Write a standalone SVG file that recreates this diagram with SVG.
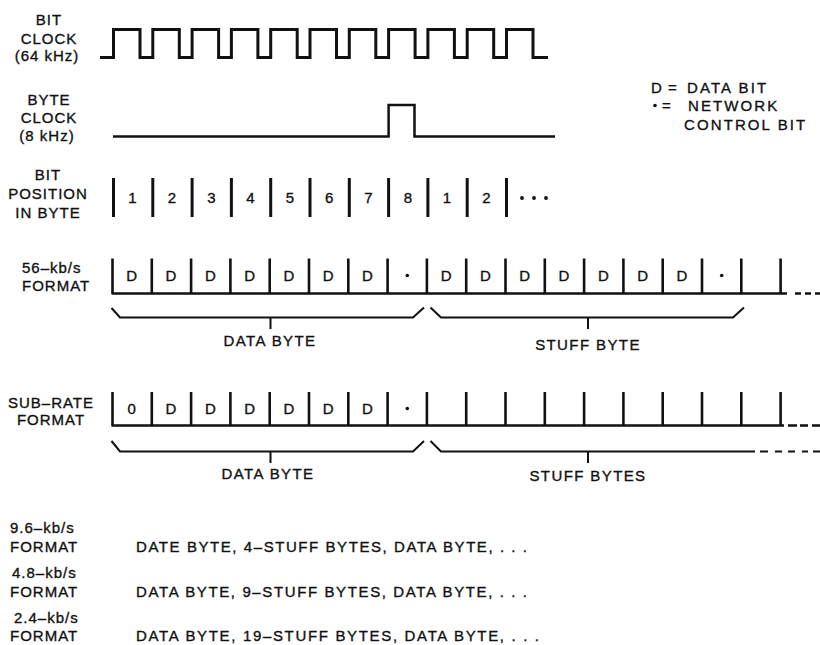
<svg xmlns="http://www.w3.org/2000/svg" width="820" height="645" viewBox="0 0 820 645">
<style>
text{font-family:"Liberation Sans",Arial,sans-serif;font-size:15px;fill:#111;stroke:#111;stroke-width:0.35;letter-spacing:1px}
.m{text-anchor:middle}
.w{fill:none;stroke:#111;stroke-width:3;stroke-linejoin:miter}
.bar{stroke:#111;stroke-width:3}
.base{stroke:#111;stroke-width:2.5;fill:none}
.br{fill:none;stroke:#111;stroke-width:2}
.lg{letter-spacing:2.1px}
.bl{letter-spacing:1.4px}
</style>
<rect width="820" height="645" fill="#fff"/>

<g id="bit-clock">
<text class="m" x="49" y="25">BIT</text>
<text class="m" x="49" y="44">CLOCK</text>
<text class="m" x="47" y="61">(64 kHz)</text>
<path class="w" d="M100,57.5 H113.5 V29.5 H140 V57.5 H152.8 V29.5 H179.3 V57.5 H192.1 V29.5 H218.6 V57.5 H231.4 V29.5 H257.9 V57.5 H270.7 V29.5 H297.2 V57.5 H310 V29.5 H336.5 V57.5 H349.3 V29.5 H375.8 V57.5 H388.6 V29.5 H415.1 V57.5 H427.9 V29.5 H454.4 V57.5 H467.2 V29.5 H493.7 V57.5 H506.5 V29.5 H533 V57.5 H548"/>
</g>

<g id="byte-clock">
<text class="m" x="49" y="105">BYTE</text>
<text class="m" x="49" y="123">CLOCK</text>
<text class="m" x="47" y="141">(8 kHz)</text>
<path class="w" style="stroke-width:2.5" d="M113,136.5 H388.6 V105 H414.5 V136.5 H555"/>
</g>

<g id="legend">
<text x="651" y="93">D =</text>
<text x="687" y="93" class="lg">DATA BIT</text>
<circle cx="655" cy="105.5" r="1.8" fill="#111"/>
<text x="662" y="111">=</text>
<text x="688" y="111" class="lg">NETWORK</text>
<text x="684" y="130" class="lg">CONTROL BIT</text>
</g>

<g id="bit-position">
<text class="m" x="48" y="180">BIT</text>
<text class="m" x="48" y="199">POSITION</text>
<text class="m" x="48" y="218">IN BYTE</text>
<g class="bar">
<line x1="113.5" y1="178" x2="113.5" y2="217"/>
<line x1="152.8" y1="178" x2="152.8" y2="217"/>
<line x1="192.1" y1="178" x2="192.1" y2="217"/>
<line x1="231.4" y1="178" x2="231.4" y2="217"/>
<line x1="270.7" y1="178" x2="270.7" y2="217"/>
<line x1="310" y1="178" x2="310" y2="217"/>
<line x1="349.3" y1="178" x2="349.3" y2="217"/>
<line x1="388.6" y1="178" x2="388.6" y2="217"/>
<line x1="427.9" y1="178" x2="427.9" y2="217"/>
<line x1="467.2" y1="178" x2="467.2" y2="217"/>
<line x1="506.5" y1="178" x2="506.5" y2="217"/>
</g>
<text class="m" x="133" y="203">1</text>
<text class="m" x="172.5" y="203">2</text>
<text class="m" x="211.8" y="203">3</text>
<text class="m" x="251" y="203">4</text>
<text class="m" x="290.3" y="203">5</text>
<text class="m" x="329.7" y="203">6</text>
<text class="m" x="369" y="203">7</text>
<text class="m" x="408.3" y="203">8</text>
<text class="m" x="447.5" y="203">1</text>
<text class="m" x="486.8" y="203">2</text>
<circle cx="522" cy="198" r="1.9" fill="#111"/>
<circle cx="534" cy="198" r="1.9" fill="#111"/>
<circle cx="546" cy="198" r="1.9" fill="#111"/>
</g>

<g id="format-56">
<text x="22" y="273">56–kb/s</text>
<text x="22" y="291">FORMAT</text>
<g class="bar" style="stroke-width:2.6">
<line x1="112.5" y1="258.5" x2="112.5" y2="293.5"/>
<line x1="151.8" y1="258.5" x2="151.8" y2="293.5"/>
<line x1="191.1" y1="258.5" x2="191.1" y2="293.5"/>
<line x1="230.4" y1="258.5" x2="230.4" y2="293.5"/>
<line x1="269.7" y1="258.5" x2="269.7" y2="293.5"/>
<line x1="309" y1="258.5" x2="309" y2="293.5"/>
<line x1="348.3" y1="258.5" x2="348.3" y2="293.5"/>
<line x1="387.6" y1="258.5" x2="387.6" y2="293.5"/>
<line x1="426.9" y1="258.5" x2="426.9" y2="293.5"/>
<line x1="466.2" y1="258.5" x2="466.2" y2="293.5"/>
<line x1="505.5" y1="258.5" x2="505.5" y2="293.5"/>
<line x1="544.8" y1="258.5" x2="544.8" y2="293.5"/>
<line x1="584.1" y1="258.5" x2="584.1" y2="293.5"/>
<line x1="623.4" y1="258.5" x2="623.4" y2="293.5"/>
<line x1="662.7" y1="258.5" x2="662.7" y2="293.5"/>
<line x1="702" y1="258.5" x2="702" y2="293.5"/>
<line x1="741.3" y1="258.5" x2="741.3" y2="293.5"/>
<line x1="780.6" y1="258.5" x2="780.6" y2="293.5"/>
</g>
<path class="base" d="M111.5,293.5 H787 M795,293.5 H801 M805,293.5 H811 M815,293.5 H820"/>
<text class="m" x="132.2" y="281">D</text>
<text class="m" x="171.5" y="281">D</text>
<text class="m" x="210.8" y="281">D</text>
<text class="m" x="250.1" y="281">D</text>
<text class="m" x="289.4" y="281">D</text>
<text class="m" x="328.7" y="281">D</text>
<text class="m" x="368" y="281">D</text>
<circle cx="407.3" cy="275.5" r="1.8" fill="#111"/>
<text class="m" x="446.6" y="281">D</text>
<text class="m" x="485.9" y="281">D</text>
<text class="m" x="525.2" y="281">D</text>
<text class="m" x="564.5" y="281">D</text>
<text class="m" x="603.8" y="281">D</text>
<text class="m" x="643.1" y="281">D</text>
<text class="m" x="682.4" y="281">D</text>
<circle cx="721.7" cy="275.5" r="1.8" fill="#111"/>
</g>

<g id="brace-56">
<path class="br" d="M111.5,308 L120,317.5 H413 L424,307.5 M270.5,317.5 V329 M430.5,307.5 L441,317.5 H733 L744,307.5 M588,317.5 V329"/>
<text class="m bl" x="270" y="346">DATA BYTE</text>
<text class="m bl" x="588" y="350">STUFF BYTE</text>
</g>

<g id="format-subrate">
<text class="m" x="51" y="408">SUB–RATE</text>
<text class="m" x="51" y="425">FORMAT</text>
<g class="bar" style="stroke-width:2.6">
<line x1="112.5" y1="392" x2="112.5" y2="425.5"/>
<line x1="151.8" y1="392" x2="151.8" y2="425.5"/>
<line x1="191.1" y1="392" x2="191.1" y2="425.5"/>
<line x1="230.4" y1="392" x2="230.4" y2="425.5"/>
<line x1="269.7" y1="392" x2="269.7" y2="425.5"/>
<line x1="309" y1="392" x2="309" y2="425.5"/>
<line x1="348.3" y1="392" x2="348.3" y2="425.5"/>
<line x1="387.6" y1="392" x2="387.6" y2="425.5"/>
<line x1="426.9" y1="392" x2="426.9" y2="425.5"/>
<line x1="466.2" y1="392" x2="466.2" y2="425.5"/>
<line x1="505.5" y1="392" x2="505.5" y2="425.5"/>
<line x1="544.8" y1="392" x2="544.8" y2="425.5"/>
<line x1="584.1" y1="392" x2="584.1" y2="425.5"/>
<line x1="623.4" y1="392" x2="623.4" y2="425.5"/>
<line x1="662.7" y1="392" x2="662.7" y2="425.5"/>
<line x1="702" y1="392" x2="702" y2="425.5"/>
<line x1="741.3" y1="392" x2="741.3" y2="425.5"/>
<line x1="780.6" y1="392" x2="780.6" y2="425.5"/>
</g>
<path class="base" d="M111.5,425.5 H784 M788,425.5 H797 M800,425.5 H808 M812,425.5 H820"/>
<text class="m" x="132.2" y="414">0</text>
<text class="m" x="171.5" y="414">D</text>
<text class="m" x="210.8" y="414">D</text>
<text class="m" x="250.1" y="414">D</text>
<text class="m" x="289.4" y="414">D</text>
<text class="m" x="328.7" y="414">D</text>
<text class="m" x="368" y="414">D</text>
<circle cx="407.3" cy="408.5" r="1.8" fill="#111"/>
</g>

<g id="brace-subrate">
<path class="br" d="M111.5,441 L120,451.5 H413 L424,441 M270.5,451.5 V463 M430.5,441 L441,451.5 H755 M760,451.5 H768 M775,451.5 H782 M788,451.5 H795 M802,451.5 H808 M813,451.5 H820 M588,451.5 V463"/>
<text class="m bl" x="268" y="479">DATA BYTE</text>
<text class="m bl" x="588" y="481">STUFF BYTES</text>
</g>

<g id="rates">
<text x="10" y="533">9.6–kb/s</text>
<text x="10" y="552">FORMAT</text>
<text x="136" y="552" textLength="392" lengthAdjust="spacing">DATE BYTE, 4–STUFF BYTES, DATA BYTE, . . .</text>
<text x="12" y="578">4.8–kb/s</text>
<text x="10" y="597">FORMAT</text>
<text x="136" y="597" textLength="392" lengthAdjust="spacing">DATA BYTE, 9–STUFF BYTES, DATA BYTE, . . .</text>
<text x="14" y="623">2.4–kb/s</text>
<text x="10" y="641">FORMAT</text>
<text x="136" y="641" textLength="404" lengthAdjust="spacing">DATA BYTE, 19–STUFF BYTES, DATA BYTE, . . .</text>
</g>
</svg>
